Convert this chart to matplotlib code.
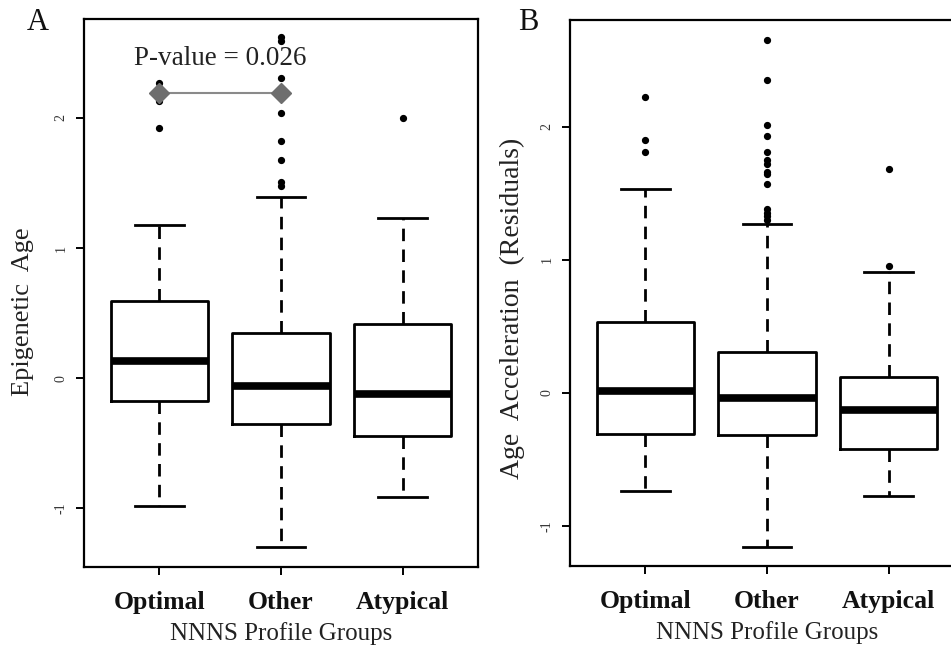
import matplotlib
matplotlib.use("Agg")
import matplotlib.pyplot as plt

plt.rcParams['font.family'] = ['Liberation Serif', 'DejaVu Serif']

groups = ["Optimal", "Other", "Atypical"]

# Panel A: Epigenetic Age
a_q1 = [-0.175, -0.355, -0.44]
a_med = [0.13, -0.06, -0.12]
a_q3 = [0.59, 0.345, 0.415]
a_wlo = [-0.98, -1.30, -0.91]
a_whi = [1.18, 1.39, 1.23]
a_out = [[2.27, 2.13, 1.925],
         [2.62, 2.59, 2.31, 2.04, 1.82, 1.68, 1.51, 1.48],
         [2.0]]

# Panel B: Age Acceleration (Residuals)
b_q1 = [-0.31, -0.32, -0.42]
b_med = [0.015, -0.035, -0.13]
b_q3 = [0.53, 0.31, 0.12]
b_wlo = [-0.74, -1.155, -0.775]
b_whi = [1.53, 1.27, 0.905]
b_out = [[2.22, 1.90, 1.81],
         [2.65, 2.35, 2.015, 1.93, 1.81, 1.75, 1.72, 1.66, 1.64, 1.57, 1.38, 1.35, 1.33, 1.30],
         [1.68, 0.95]]

yticks = [-1, 0, 1, 2]
ytick_labels = ["-1", "0", "1", "2"]

pval_text = "P-value = 0.026"
pval_y = 2.19
pval_pair = [1, 2]

W, H = 951, 648
fig = plt.figure(figsize=(W / 100, H / 100), dpi=100)


def make_stats(q1, med, q3, wlo, whi, out):
    stats = []
    for i in range(len(q1)):
        stats.append(dict(q1=q1[i], med=med[i], q3=q3[i], whislo=wlo[i],
                          whishi=whi[i], fliers=out[i], label=groups[i]))
    return stats


def draw(ax, stats, ylim):
    ax.bxp(stats, positions=[1, 2, 3], widths=0.8, capwidths=0.4,
           showfliers=True, patch_artist=False,
           boxprops=dict(color='black', linewidth=2.0),
           medianprops=dict(color='black', linewidth=5.5, solid_capstyle='butt'),
           whiskerprops=dict(color='black', linewidth=2.0, linestyle=(0, (4.5, 3.0))),
           capprops=dict(color='black', linewidth=2.0),
           flierprops=dict(marker='o', markersize=4.2, markerfacecolor='black',
                           markeredgecolor='black'))
    ax.set_xlim(0.38, 3.62)
    ax.set_ylim(*ylim)
    for s in ax.spines.values():
        s.set_linewidth(1.6)
        s.set_color('black')
    ax.set_yticks(yticks)
    ax.set_yticklabels(ytick_labels, rotation=90, va='center', fontsize=10,
                       color='#333333')
    ax.tick_params(axis='y', length=6, width=1.4, pad=6)
    ax.set_xticks([1, 2, 3])
    ax.set_xticklabels(groups, fontsize=18.5, fontweight='bold', color='#111111')
    ax.tick_params(axis='x', length=6, width=1.4, pad=11)
    ax.set_xlabel("NNNS Profile Groups", fontsize=18, color='#222222', labelpad=6)


axA = fig.add_axes([84 / W, (H - 567) / H, 394 / W, (567 - 19) / H])
draw(axA, make_stats(a_q1, a_med, a_q3, a_wlo, a_whi, a_out), (-1.45, 2.76))
axA.plot(pval_pair, [pval_y, pval_y], color='#8a8a8a', linewidth=1.5, zorder=4)
axA.plot(pval_pair, [pval_y, pval_y], linestyle='none', marker='D', markersize=10,
         color='#6e6e6e', zorder=5)
axA.text(sum(pval_pair) / 2, 2.46, pval_text, ha='center', va='center',
         fontsize=19.5, color='#222222')

axB = fig.add_axes([570 / W, (H - 566) / H, 394 / W, (566 - 20) / H])
draw(axB, make_stats(b_q1, b_med, b_q3, b_wlo, b_whi, b_out), (-1.30, 2.80))

fig.text(23 / W, 1 - 312 / H, "Epigenetic  Age", rotation=90, ha='center',
         va='center', fontsize=19, color='#222222')
fig.text(512 / W, 1 - 308 / H, "Age  Acceleration  (Residuals)", rotation=90,
         ha='center', va='center', fontsize=20, color='#222222')

fig.text(38 / W, 1 - 22 / H, "A", fontsize=22, ha='center', va='center', color='#111111')
fig.text(528 / W, 1 - 22 / H, "B", fontsize=22, ha='center', va='center', color='#111111')

fig.savefig("out.png", dpi=100)
